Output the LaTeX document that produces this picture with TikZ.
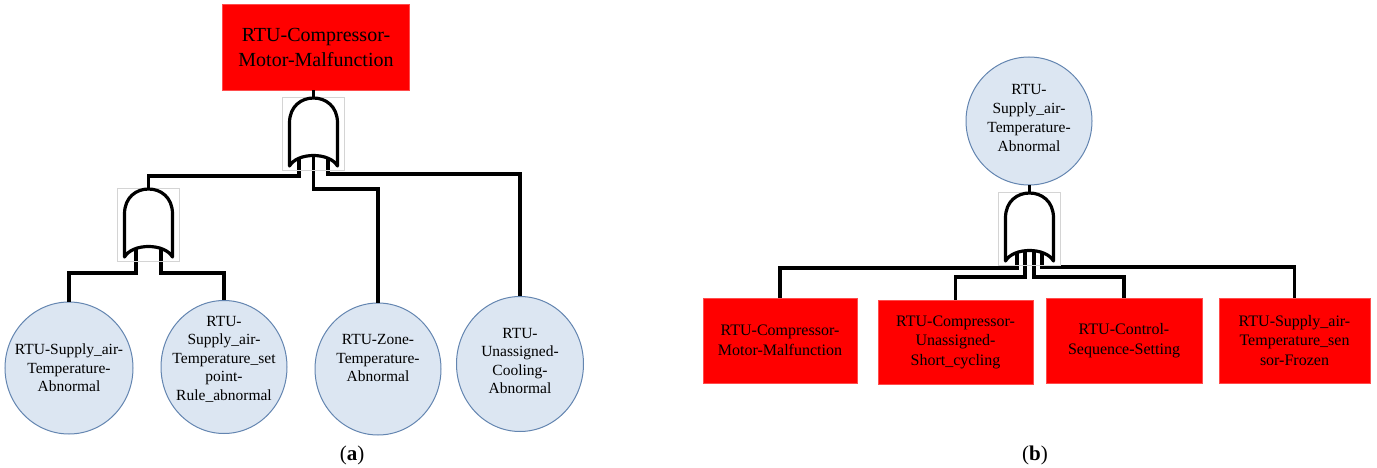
\documentclass[tikz,border=0pt]{standalone}
\usepackage{fontspec}
\setmainfont{Liberation Serif}
\usepackage{xcolor}
\usetikzlibrary{shapes.geometric}
\definecolor{evRed}{HTML}{FF0000}
\definecolor{evFill}{HTML}{DCE6F2}
\definecolor{evEdge}{HTML}{6385B0}
\definecolor{boxGray}{HTML}{D4D4D4}
\tikzset{
  wire/.style={draw=black, line width=3.2pt, line join=miter},
  gateLine/.style={draw=black, line width=3.2pt, line join=round},
  gateBox/.style={draw=boxGray, line width=0.8pt},
  topEvt/.style={rectangle, fill=evRed, draw=evRed!70!white, line width=0.5pt, inner sep=0pt, align=center},
  basicEvt/.style={ellipse, fill=evFill, draw=evEdge, line width=1pt, inner sep=0pt},
  evTxt/.style={align=center, font=\fontsize{15.5}{18.5}\selectfont},
  capLbl/.style={font=\fontsize{21}{24}\selectfont},
  orGate/.pic={
    \draw[gateBox] (-31,-1) rectangle (31,72);
    \draw[gateLine, fill=white] (-24,68) -- (-24,25)
      .. controls (-24,8) and (-12,0) .. (0,0)
      .. controls (12,0) and (24,8) .. (24,25) -- (24,68)
      .. controls (16,54) and (-16,54) .. cycle;
    \coordinate (-top) at (0,0);
  },
}

\begin{document}
\begin{tikzpicture}[x=1pt, y=-1pt]
  \useasboundingbox (0,0) rectangle (1377,468);

  % (a) events
  \node[topEvt, minimum width=187, minimum height=86, font=\fontsize{20}{25}\selectfont]
    (r0) at (316,47) {RTU-Compressor-\\Motor-Malfunction};
  \node[basicEvt, minimum width=128, minimum height=132,
    label={[evTxt]center:RTU-Supply\_air-\\Temperature-\\Abnormal}] (c1) at (69,368) {};
  \node[basicEvt, minimum width=126, minimum height=133,
    label={[evTxt, yshift=8pt]center:RTU-\\Supply\_air-\\Temperature\_set\\point-\\Rule\_abnormal}] (c2) at (224,367) {};
  \node[basicEvt, minimum width=126, minimum height=132,
    label={[evTxt, yshift=11pt]center:RTU-Zone-\\Temperature-\\Abnormal}] (c3) at (378,369) {};
  \node[basicEvt, minimum width=127, minimum height=135,
    label={[evTxt, yshift=3pt]center:RTU-\\Unassigned-\\Cooling-\\Abnormal}] (c4) at (520,364) {};

  % (a) gate stubs
  \coordinate (gA-s1) at (299,156);
  \coordinate (gA-s2) at (313.5,156);
  \coordinate (gA-s3) at (328,156);
  \coordinate (gB-s1) at (136,247);
  \coordinate (gB-s2) at (161,247);
  \coordinate (gA-in) at (313.5,98);
  \coordinate (gB-in) at (148.5,189);

  \draw[wire] (gA-in |- r0.south) -- (gA-in);
  \draw[wire] (gA-s1) -- ++(0,20) -| (gB-in);
  \draw[wire] (gA-s2) -- ++(0,33) -| (c3.north);
  \draw[wire] (gA-s3) -- ++(0,18) -| (c4.north);
  \draw[wire] (gB-s1) -- ++(0,26) -| (c1.north);
  \draw[wire] (gB-s2) -- ++(0,26) -| (c2.north);

  \pic (gA) at (gA-in) {orGate};
  \pic (gB) at (gB-in) {orGate};

  % (b) events
  \node[basicEvt, minimum width=126, minimum height=128,
    label={[evTxt, font=\fontsize{15.5}{19}\selectfont, yshift=3pt]center:RTU-\\Supply\_air-\\Temperature-\\Abnormal}] (e0) at (1029,121) {};
  \node[topEvt, minimum width=154, minimum height=85, font=\fontsize{16}{19.5}\selectfont]
    (r1) at (780,340.5) {RTU-Compressor-\\Motor-Malfunction};
  \node[topEvt, minimum width=155, minimum height=84, font=\fontsize{16}{19.5}\selectfont]
    (r2) at (955.5,342) {RTU-Compressor-\\Unassigned-\\Short\_cycling};
  \node[topEvt, minimum width=156, minimum height=85, font=\fontsize{16}{19.5}\selectfont]
    (r3) at (1124,340.5) {RTU-Control-\\Sequence-Setting};
  \node[topEvt, minimum width=151, minimum height=85, font=\fontsize{16}{19.5}\selectfont]
    (r4) at (1294.5,340.5) {RTU-Supply\_air-\\Temperature\_sen\\sor-Frozen};

  % (b) gate stubs
  \coordinate (gC-in) at (1029.5,193);
  \coordinate (gC-s1) at (1017,249);
  \coordinate (gC-s2) at (1025,249);
  \coordinate (gC-s3) at (1034,249);
  \coordinate (gC-s4) at (1042,249);

  \draw[wire] (gC-in |- e0.south) -- (gC-in);
  \draw[wire] (gC-s1) -- ++(0,19) -| (r1.north);
  \draw[wire] (gC-s2) -- ++(0,28) -| (r2.north);
  \draw[wire] (gC-s3) -- ++(0,28) -| (r3.north);
  \draw[wire] (gC-s4) -- ++(0,18) -| (r4.north);

  \pic (gC) at (gC-in) {orGate};

  % Captions
  \node[capLbl] (capA) at (352,455) {(\textbf{a})};
  \node[capLbl] (capB) at (1035,455) {(\textbf{b})};
\end{tikzpicture}
\end{document}
